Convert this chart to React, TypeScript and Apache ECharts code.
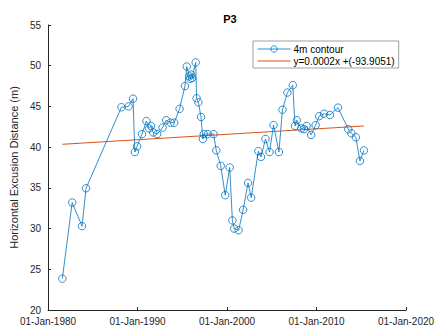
import React, { useEffect, useRef } from "react";
import * as echarts from "echarts";

const years = [
  1981.6, 1982.7, 1983.8, 1984.25, 1988.2, 1989.0, 1989.5, 1989.7, 1989.95,
  1990.5, 1991.0, 1991.3, 1991.5, 1991.75, 1992.2, 1992.8, 1993.2, 1993.7,
  1994.1, 1994.7, 1995.3, 1995.5, 1995.8, 1995.9, 1996.0, 1996.1, 1996.5,
  1996.6, 1996.8, 1997.1, 1997.3, 1997.4, 1997.85, 1998.5, 1998.8, 1999.3,
  1999.8, 2000.3, 2000.6, 2000.8, 2001.3, 2001.8, 2002.35, 2002.7, 2003.5,
  2003.8, 2004.3, 2004.75, 2005.2, 2005.8, 2006.2, 2006.75, 2007.35, 2007.6,
  2007.8, 2008.3, 2008.6, 2008.9, 2009.4, 2009.9, 2010.3, 2010.85, 2011.5,
  2012.4, 2013.55, 2013.9, 2014.4, 2014.85, 2015.3,
];
const distances = [
  23.85, 33.2, 30.3, 34.95, 44.9, 45.0, 45.95, 39.4, 40.1,
  41.6, 43.2, 42.3, 42.6, 41.8, 41.6, 42.4, 43.3, 43.0,
  43.0, 44.7, 47.5, 49.9, 48.7, 48.4, 48.9, 48.5, 50.4,
  46.0, 45.5, 43.7, 41.0, 41.6, 41.6, 41.6, 39.6, 37.7,
  34.1, 37.5, 31.0, 30.0, 29.8, 32.3, 35.6, 33.8, 39.5,
  38.8, 41.0, 39.4, 42.7, 39.4, 44.6, 46.7, 47.6, 42.6,
  43.3, 42.3, 42.2, 42.6, 41.5, 42.7, 43.8, 44.1, 43.95,
  44.85, 42.2, 41.7, 41.2, 38.3, 39.6,
];
const trendYears = [1981.6, 2015.3];
const trendValues = [40.35, 42.6];
const xTicks = [1980, 1990, 2000, 2010, 2020];
const yTicks = [20, 25, 30, 35, 40, 45, 50, 55];

const FONT = "'Liberation Sans', Arial, Helvetica, sans-serif";
const AXIS = "#262626";
const BLUE = "#0072BD";
const ORANGE = "#D95319";

export default function App() {
  const ref = useRef<HTMLDivElement>(null);
  useEffect(() => {
    if (!ref.current) return;
    const chart = echarts.init(ref.current, undefined, { renderer: "svg" });
    chart.setOption({
      animation: false,
      backgroundColor: "#ffffff",
      textStyle: { fontFamily: FONT },
      title: {
        text: "P3",
        left: 225,
        top: 8,
        textAlign: "center",
        textStyle: { fontSize: 11, fontWeight: "bold", color: "#000", fontFamily: FONT },
      },
      legend: {
        orient: "vertical",
        left: 253,
        top: 41,
        padding: [3, 4, 2, 4],
        itemGap: 2,
        itemWidth: 33,
        itemHeight: 8,
        backgroundColor: "#ffffff",
        borderColor: "#a0a0a0",
        borderWidth: 1,
        textStyle: { fontSize: 10, color: "#000", fontFamily: FONT, padding: [0, 0, 0, -2] },
        data: [
          {
            name: "4m contour",
            itemStyle: { color: "rgba(0,0,0,0)", borderColor: BLUE, borderWidth: 0.8 },
            lineStyle: { color: BLUE, width: 0.8 },
          },
          {
            name: "y=0.0002x +(-93.9051)",
            itemStyle: { opacity: 0 },
            lineStyle: { color: ORANGE, width: 1 },
          },
        ],
      },
      grid: { left: 45, right: 33, top: 25, bottom: 23, containLabel: false },
      xAxis: {
        type: "value",
        min: xTicks[0],
        max: xTicks[xTicks.length - 1],
        interval: 10,
        axisLine: { lineStyle: { color: AXIS, width: 1 } },
        axisTick: { inside: true, length: 3, lineStyle: { color: AXIS } },
        splitLine: { show: false },
        axisLabel: {
          fontSize: 10,
          color: AXIS,
          margin: 6,
          fontFamily: FONT,
          formatter: (v: number) => "01-Jan-" + v,
        },
      },
      yAxis: {
        type: "value",
        min: yTicks[0],
        max: yTicks[yTicks.length - 1],
        interval: 5,
        name: "Horizontal Excusion Distance (m)",
        nameLocation: "middle",
        nameGap: 26,
        nameRotate: 90,
        nameTextStyle: { fontSize: 11, color: AXIS, fontFamily: FONT },
        axisLine: { show: true, lineStyle: { color: AXIS, width: 1 } },
        axisTick: { show: true, inside: true, length: 3, lineStyle: { color: AXIS } },
        splitLine: { show: false },
        axisLabel: { fontSize: 10, color: AXIS, margin: 7, fontFamily: FONT },
      },
      series: [
        {
          name: "4m contour",
          type: "line",
          data: years.map((y, i) => [y, distances[i]]),
          symbol: "circle",
          symbolSize: 7.5,
          showAllSymbol: true,
          lineStyle: { color: BLUE, width: 0.8 },
          itemStyle: { color: "rgba(0,0,0,0)", borderColor: BLUE, borderWidth: 0.8 },
        },
        {
          name: "y=0.0002x +(-93.9051)",
          type: "line",
          data: trendYears.map((y, i) => [y, trendValues[i]]),
          symbol: "none",
          lineStyle: { color: ORANGE, width: 1 },
          itemStyle: { color: ORANGE },
        },
      ],
    });
    return () => chart.dispose();
  }, []);
  return <div ref={ref} style={{ width: 439, height: 333, position: "absolute", left: 0, top: 0 }} />;
}
